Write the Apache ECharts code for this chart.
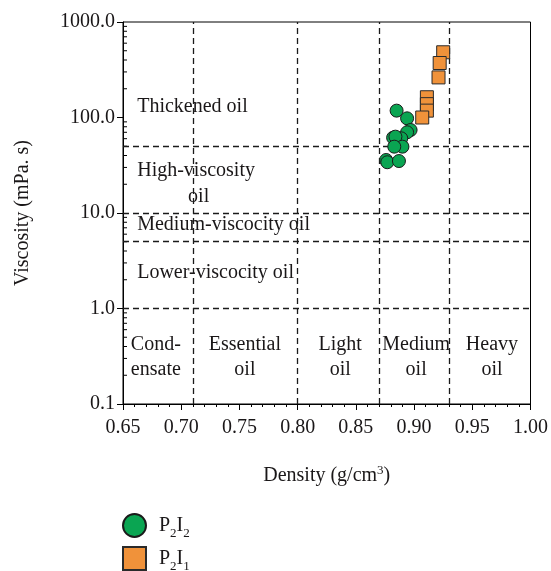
<!DOCTYPE html>
<html>
<head>
<meta charset="utf-8">
<script src="https://cdn.jsdelivr.net/npm/echarts@6/dist/echarts.min.js"></script>
<style>html,body{margin:0;padding:0;background:#fff}#c{width:551px;height:571px}</style>
</head>
<body>
<div id="c"></div>
<script>
// ---- data ----
const p2i2Density = [0.885, 0.894, 0.897, 0.894, 0.882, 0.889, 0.884, 0.890, 0.883, 0.876, 0.877, 0.887];
const p2i2Viscosity = [118, 98, 74, 70, 61.5, 60.5, 63, 49.5, 49.5, 35.9, 34, 35];
const p2i1Density = [0.925, 0.922, 0.921, 0.911, 0.911, 0.911, 0.907];
const p2i1Viscosity = [482, 372, 263, 163, 138, 118, 100];
const seriesNames = ['P2I2', 'P2I1'];
const legendRich = {P2I2: '{a|P}{s|2}{a|I}{s|2}', P2I1: '{a|P}{s|2}{a|I}{s|1}'};
const xTickMin = 0.65, xTickMax = 1.0, xTickStep = 0.05;
const yTickMin = 0.1, yTickMax = 1000;
const densityBounds = [0.7054, 0.8046, 0.8693, 0.9343];
const viscosityBounds = [50, 10, 5, 1];
const yMinorTicks = [0.2,0.3,0.4,0.5,0.6,0.7,0.8,0.9,2,3,4,5,6,7,8,9,20,30,40,50,60,70,80,90,200,300,400,500,600,700,800,900];
const viscLabels = ['Thickened oil', 'High-viscosity', 'oil', 'Medium-viscocity oil', 'Lower-viscocity oil'];
const viscLabelX = [0.6622, 0.6622, 0.7059, 0.6622, 0.6622];
const viscLabelY = [131, 27.5, 14.7, 7.49, 2.35];
const densLabels = ['Cond-\nensate', 'Essential\noil', 'Light\noil', 'Medium\noil', 'Heavy\noil'];
const densLabelX = [0.6782, 0.7547, 0.8366, 0.9018, 0.9669];
const densLabelY = 0.31;

const FONT = '"Liberation Serif", "Times New Roman", serif';
const TXT = '#1a1718';
const chart = echarts.init(document.getElementById('c'), null, {renderer: 'canvas'});

const zip = (a, b) => a.map((v, i) => [v, b[i]]);

const legendText = {
  fontFamily: FONT, fontSize: 20, color: TXT, padding: [0, 0, 0, 8],
  rich: {
    a: {fontFamily: FONT, fontSize: 20, color: TXT, lineHeight: 24},
    s: {fontFamily: FONT, fontSize: 13, color: TXT, lineHeight: 13, verticalAlign: 'bottom', padding: [0, 0, -3, 0]}
  }
};
const legendBase = {orient: 'vertical', left: 122, padding: 0, itemWidth: 23, itemHeight: 23,
  formatter: n => legendRich[n], textStyle: legendText};

const option = {
  animation: false,
  backgroundColor: '#fff',
  textStyle: {fontFamily: FONT},
  grid: {left: 123, right: 19, top: 22, bottom: 167, show: true, borderColor: '#000', borderWidth: 1, backgroundColor: 'transparent'},
  legend: [
    Object.assign({}, legendBase, {top: 513, data: [{name: seriesNames[0], icon: 'circle'}]}),
    Object.assign({}, legendBase, {top: 546, data: [{name: seriesNames[1], icon: 'rect'}]})
  ],
  xAxis: {
    type: 'value', min: xTickMin, max: xTickMax, interval: xTickStep,
    name: '{a|Density (g/cm}{sup|3}{a|)}', nameLocation: 'middle', nameGap: 60,
    nameTextStyle: {
      rich: {
        a: {fontFamily: FONT, fontSize: 20, color: TXT, lineHeight: 24},
        sup: {fontFamily: FONT, fontSize: 13, color: TXT, verticalAlign: 'top', lineHeight: 13, padding: [0, 0, 8, 0]}
      }
    },
    axisLine: {lineStyle: {color: '#000', width: 1}},
    axisTick: {show: true, length: 6, lineStyle: {color: '#000'}},
    minorTick: {show: true, splitNumber: 5, length: 3, lineStyle: {color: '#000'}},
    axisLabel: {fontFamily: FONT, fontSize: 20, color: TXT, margin: 14, formatter: v => v.toFixed(2), showMaxLabel: true},
    splitLine: {show: false}
  },
  yAxis: {
    type: 'log', logBase: 10, min: yTickMin, max: yTickMax,
    name: 'Viscosity (mPa. s)', nameLocation: 'middle', nameGap: 90,
    nameTextStyle: {fontFamily: FONT, fontSize: 20, color: TXT},
    axisLine: {show: true, lineStyle: {color: '#000', width: 1}},
    axisTick: {show: true, length: 6, lineStyle: {color: '#000'}},
    axisLabel: {fontFamily: FONT, fontSize: 20, color: TXT, margin: 8, formatter: v => Number(v).toFixed(1)},
    splitLine: {show: false}
  },
  series: [
    {
      type: 'scatter', name: '_bounds', data: [], silent: true, z: 1,
      markLine: {
        silent: true, symbol: 'none', label: {show: false},
        lineStyle: {color: '#1a1a1a', width: 1.3, type: [6, 4], opacity: 1},
        data: densityBounds.map(v => ({xAxis: v})).concat(viscosityBounds.map(v => ({yAxis: v})))
      }
    },
    {
      type: 'custom', name: '_minor', silent: true, z: 3,
      data: yMinorTicks.map(v => [xTickMin, v]),
      renderItem: (params, api) => {
        const p = api.coord([api.value(0), api.value(1)]);
        return {type: 'line', shape: {x1: p[0], y1: p[1], x2: p[0] + 4, y2: p[1]}, style: {stroke: '#000', lineWidth: 1}};
      }
    },
    {
      type: 'scatter', name: '_vlabels', silent: true, symbolSize: 0, z: 2,
      itemStyle: {opacity: 1},
      data: viscLabels.map((t, i) => ({name: t, value: [viscLabelX[i], viscLabelY[i]]})),
      label: {show: true, position: [0, 0], align: 'left', verticalAlign: 'middle', formatter: p => p.name,
        fontFamily: FONT, fontSize: 20, color: TXT, opacity: 1}
    },
    {
      type: 'scatter', name: '_dlabels', silent: true, symbolSize: 0, z: 2,
      itemStyle: {opacity: 1},
      data: densLabels.map((t, i) => ({name: t, value: [densLabelX[i], densLabelY]})),
      label: {show: true, position: [0, 0], align: 'center', verticalAlign: 'middle', formatter: p => p.name,
        fontFamily: FONT, fontSize: 20, lineHeight: 25, color: TXT, opacity: 1}
    },
    {
      type: 'scatter', name: seriesNames[0], symbol: 'circle', symbolSize: 13, z: 5,
      data: zip(p2i2Density, p2i2Viscosity),
      itemStyle: {color: '#0aa552', borderColor: '#1a1a1a', borderWidth: 1, opacity: 1}
    },
    {
      type: 'scatter', name: seriesNames[1], symbol: 'rect', symbolSize: 13, z: 5,
      data: zip(p2i1Density, p2i1Viscosity),
      itemStyle: {color: '#f0923a', borderColor: '#2a2a2a', borderWidth: 1, opacity: 1}
    }
  ]
};
chart.setOption(option);
</script>
</body>
</html>
